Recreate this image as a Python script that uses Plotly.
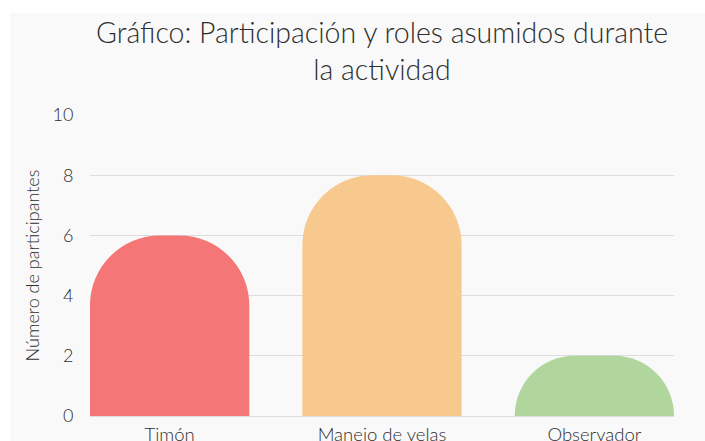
import plotly.graph_objects as go

categorias = ["Timón", "Manejo de velas", "Observador"]
participantes = [6, 8, 2]
colores = ["#f47676", "#f8c98e", "#b0d59d"]
titulo = "Gráfico: Participación y roles asumidos durante<br>la actividad"
titulo_y = "Número de participantes"

fig = go.Figure(
    go.Bar(
        x=categorias,
        y=participantes,
        width=0.75,
        marker=dict(color=colores, line=dict(width=0), cornerradius=70),
        hoverinfo="x+y",
    )
)

FONT = "Lato, 'Open Sans', sans-serif"
TXT = "#2e2e2e"
# plot area spans x 90..674, y 115..416 of the 705x441 page
L, R, T, B = 90, 31, 115, 25
W, H = 705, 441
pw, ph = W - L - R, H - T - B

fig.update_layout(
    width=W,
    height=H,
    margin=dict(l=L, r=R, t=T, b=B),
    paper_bgcolor="#ffffff",
    plot_bgcolor="rgba(0,0,0,0)",
    font=dict(family=FONT, color=TXT, size=17, weight=300),
    title=dict(
        text=titulo,
        x=0.5,
        xref="paper",
        xanchor="center",
        y=0.903,
        yref="container",
        yanchor="middle",
        font=dict(size=28.5, color=TXT, family=FONT, weight=300),
    ),
    showlegend=False,
    shapes=[
        dict(
            type="rect",
            xref="paper",
            yref="paper",
            x0=(10 - L) / pw,
            x1=(W - L) / pw,
            y0=-B / ph,
            y1=(H - B - 13) / ph,
            fillcolor="#f9f9f9",
            line=dict(width=0),
            layer="below",
        )
    ],
)
fig.update_xaxes(
    range=[-0.375, 2.375],
    showgrid=False,
    zeroline=False,
    showline=False,
    automargin=False,
    ticks="outside",
    ticklen=2,
    tickcolor="rgba(0,0,0,0)",
    tickfont=dict(size=18.5, color=TXT, weight=300),
)
fig.update_yaxes(
    range=[0, 10],
    dtick=2,
    showgrid=True,
    gridcolor="#dddddd",
    gridwidth=1,
    zeroline=True,
    zerolinecolor="#dddddd",
    zerolinewidth=1,
    showline=False,
    automargin=False,
    ticks="outside",
    ticklen=12,
    tickcolor="rgba(0,0,0,0)",
    tickfont=dict(size=18, color=TXT, weight=300),
    title=dict(text=titulo_y, font=dict(size=18, color=TXT, weight=300), standoff=8),
)

fig.write_html(
    "out.html",
    config={"displayModeBar": False},
    post_script="document.body.style.margin='0';",
)
